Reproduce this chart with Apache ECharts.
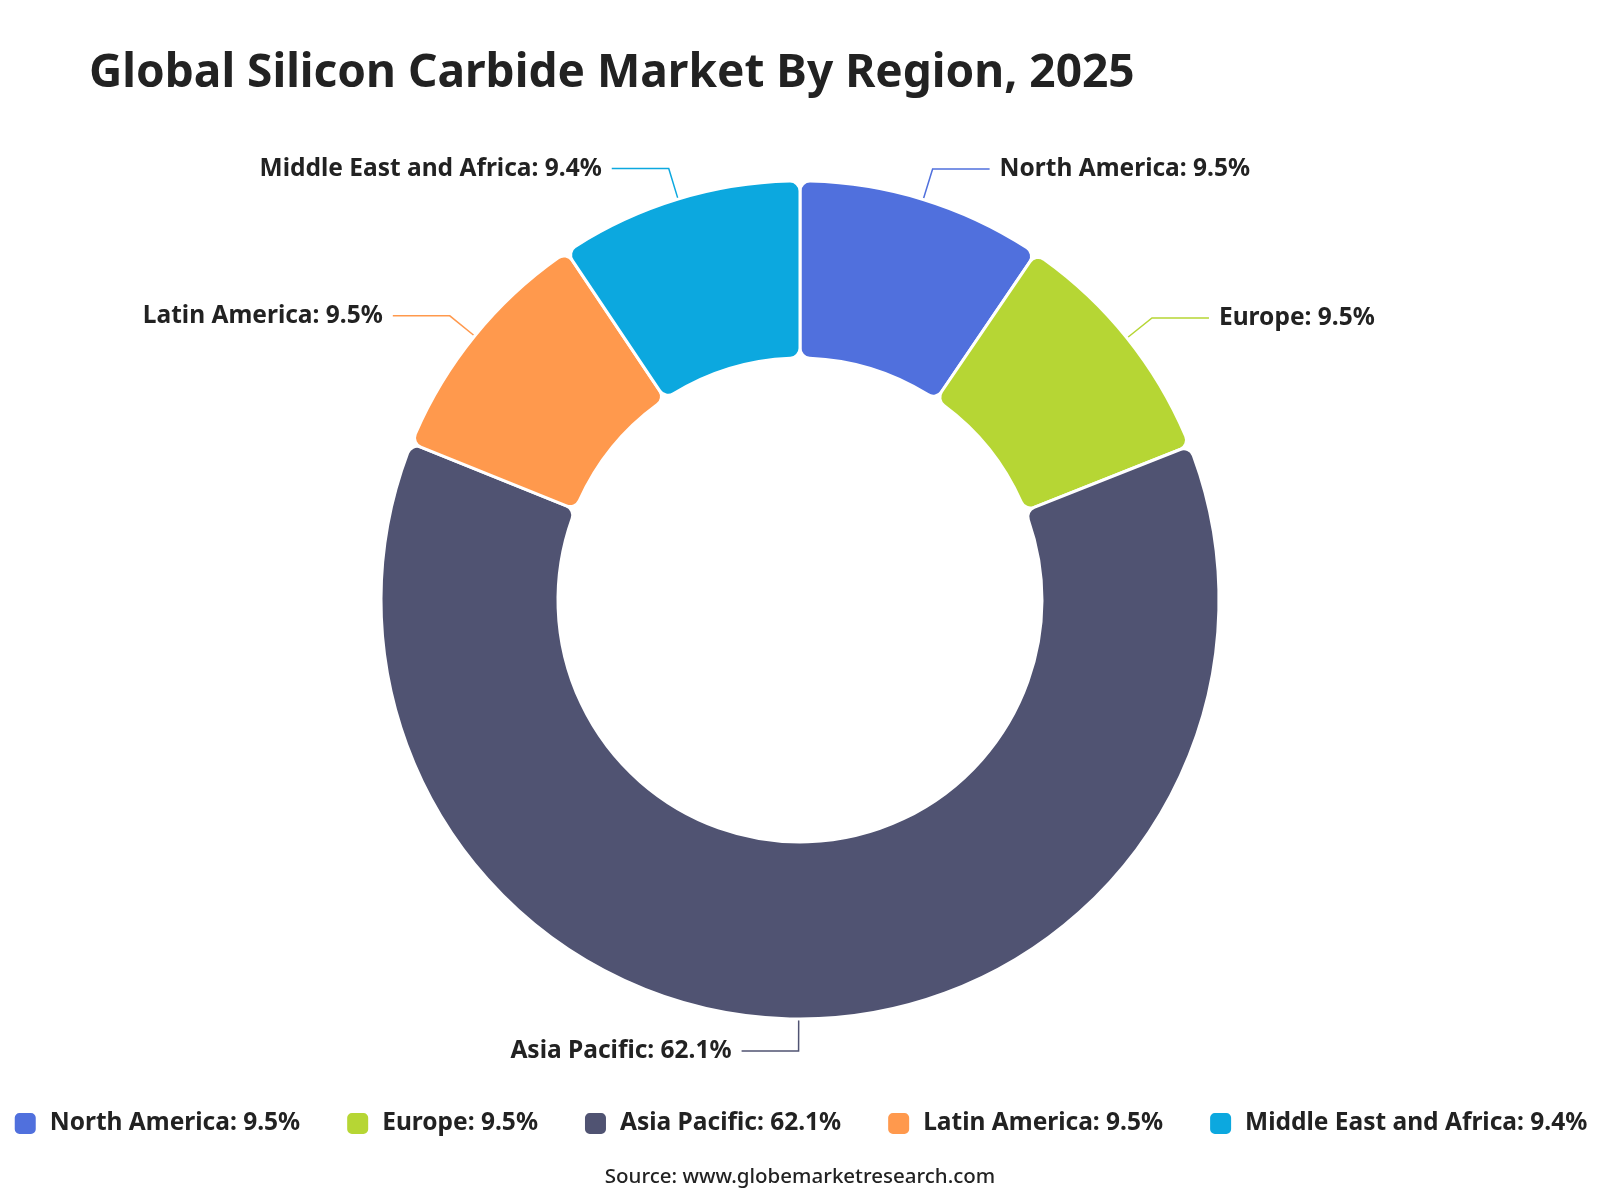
<!DOCTYPE html>
<html>
<head>
<meta charset="utf-8">
<title>Global Silicon Carbide Market By Region, 2025</title>
<script src="https://cdn.jsdelivr.net/npm/echarts@6/dist/echarts.min.js"></script>
<style>
  html, body { margin: 0; padding: 0; background: #fff; }
  #main { width: 1600px; height: 1200px; }
</style>
</head>
<body>
<div id="main"></div>
<script>
// regions and their share (%)
var regions = ["North America", "Europe", "Asia Pacific", "Latin America", "Middle East and Africa"];
var shares = [9.5, 9.5, 62.1, 9.5, 9.4];
var colors = ["#5070dd", "#b6d634", "#505372", "#ff994d", "#0ca8df"];

var font = "'Noto Sans', 'Open Sans', sans-serif";

var pieData = regions.map(function (name, i) {
  return { name: name, value: shares[i], itemStyle: { color: colors[i] } };
});

var chart = echarts.init(document.getElementById("main"));
chart.setOption({
  backgroundColor: "#fff",
  title: [
    {
      text: "Global Silicon Carbide Market By Region, 2025",
      left: 84,
      top: 46,
      textStyle: { fontFamily: font, fontSize: 46, fontWeight: "bold", color: "#222" }
    },
    {
      text: "Source: www.globemarketresearch.com",
      left: "center",
      top: 1162,
      textStyle: { fontFamily: font, fontSize: 20.5, fontWeight: 500, color: "#222" }
    }
  ],
  legend: {
    data: regions,
    top: 1106,
    left: "center",
    itemWidth: 23,
    itemHeight: 23,
    itemGap: 45,
    icon: "roundRect",
    formatter: function (name) {
      return name + ": " + shares[regions.indexOf(name)] + "%";
    },
    textStyle: { fontFamily: font, fontSize: 24.5, fontWeight: "bold", color: "#222", padding: [0, 0, 0, 8] }
  },
  series: [
    {
      type: "pie",
      center: [800, 600],
      radius: [242, 419],
      startAngle: 90,
      clockwise: true,
      avoidLabelOverlap: true,
      itemStyle: { borderColor: "#fff", borderWidth: 3, borderRadius: 10 },
      label: {
        formatter: "{b}: {c}%",
        fontFamily: font,
        fontSize: 24.5,
        fontWeight: "bold",
        color: "#222",
        distanceToLabelLine: 10
      },
      labelLine: { length: 32, length2: 57, lineStyle: { width: 1.5 } },
      emphasis: { disabled: true },
      data: pieData
    }
  ]
});
</script>
</body>
</html>
